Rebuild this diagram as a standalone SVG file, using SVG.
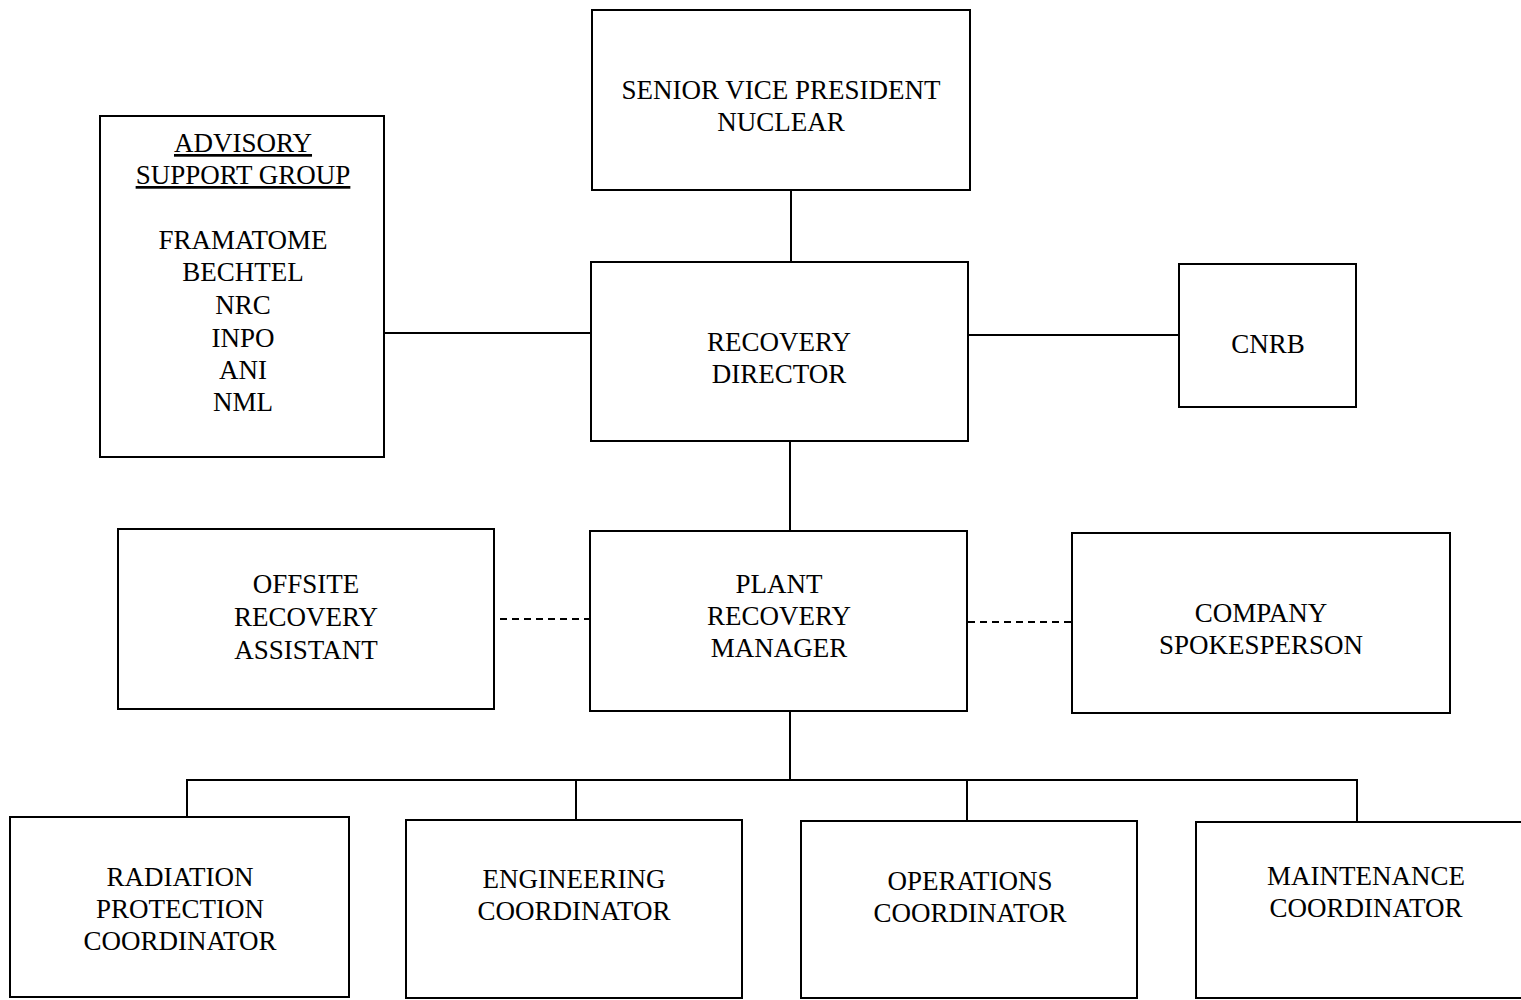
<svg xmlns="http://www.w3.org/2000/svg" width="1521" height="1000" viewBox="0 0 1521 1000">
<style>
rect{fill:none;stroke:#000;stroke-width:2}
line{stroke:#000;stroke-width:2}
.d{stroke-dasharray:7 5}
text{font-family:"Liberation Serif","Times New Roman",serif;font-size:27px;fill:#000;text-anchor:middle}
.u{text-decoration:underline}
</style>
<rect x="0" y="0" width="1521" height="1000" style="fill:#fff;stroke:none"/>
<g id="connectors">
<line x1="791" y1="190" x2="791" y2="262"/>
<line x1="384" y1="333" x2="591" y2="333"/>
<line x1="968" y1="335" x2="1179" y2="335"/>
<line x1="790" y1="441" x2="790" y2="531"/>
<line class="d" x1="500" y1="619" x2="590" y2="619"/>
<line class="d" x1="968" y1="622" x2="1072" y2="622"/>
<line x1="790" y1="711" x2="790" y2="780"/>
<line x1="187" y1="780" x2="1357" y2="780"/>
<line x1="187" y1="779" x2="187" y2="817"/>
<line x1="576" y1="779" x2="576" y2="820"/>
<line x1="967" y1="779" x2="967" y2="821"/>
<line x1="1357" y1="779" x2="1357" y2="822"/>
</g>
<g id="svp">
<rect x="592" y="10" width="378" height="180"/>
<text x="781" y="99">SENIOR VICE PRESIDENT</text>
<text x="781" y="131">NUCLEAR</text>
</g>
<g id="advisory">
<rect x="100" y="116" width="284" height="341"/>
<text class="u" x="243" y="152">ADVISORY</text>
<text class="u" x="243" y="184">SUPPORT GROUP</text>
<text x="243" y="249">FRAMATOME</text>
<text x="243" y="281">BECHTEL</text>
<text x="243" y="314">NRC</text>
<text x="243" y="347">INPO</text>
<text x="243" y="379">ANI</text>
<text x="243" y="411">NML</text>
</g>
<g id="director">
<rect x="591" y="262" width="377" height="179"/>
<text x="779" y="351">RECOVERY</text>
<text x="779" y="383">DIRECTOR</text>
</g>
<g id="cnrb">
<rect x="1179" y="264" width="177" height="143"/>
<text x="1268" y="353">CNRB</text>
</g>
<g id="offsite">
<rect x="118" y="529" width="376" height="180"/>
<text x="306" y="593">OFFSITE</text>
<text x="306" y="626">RECOVERY</text>
<text x="306" y="659">ASSISTANT</text>
</g>
<g id="prm">
<rect x="590" y="531" width="377" height="180"/>
<text x="779" y="593">PLANT</text>
<text x="779" y="625">RECOVERY</text>
<text x="779" y="657">MANAGER</text>
</g>
<g id="spokesperson">
<rect x="1072" y="533" width="378" height="180"/>
<text x="1261" y="622">COMPANY</text>
<text x="1261" y="654">SPOKESPERSON</text>
</g>
<g id="radiation">
<rect x="10" y="817" width="339" height="180"/>
<text x="180" y="886">RADIATION</text>
<text x="180" y="918">PROTECTION</text>
<text x="180" y="950">COORDINATOR</text>
</g>
<g id="engineering">
<rect x="406" y="820" width="336" height="178"/>
<text x="574" y="888">ENGINEERING</text>
<text x="574" y="920">COORDINATOR</text>
</g>
<g id="operations">
<rect x="801" y="821" width="336" height="177"/>
<text x="970" y="890">OPERATIONS</text>
<text x="970" y="922">COORDINATOR</text>
</g>
<g id="maintenance">
<rect x="1196" y="822" width="340" height="176"/>
<text x="1366" y="885">MAINTENANCE</text>
<text x="1366" y="917">COORDINATOR</text>
</g>
</svg>
